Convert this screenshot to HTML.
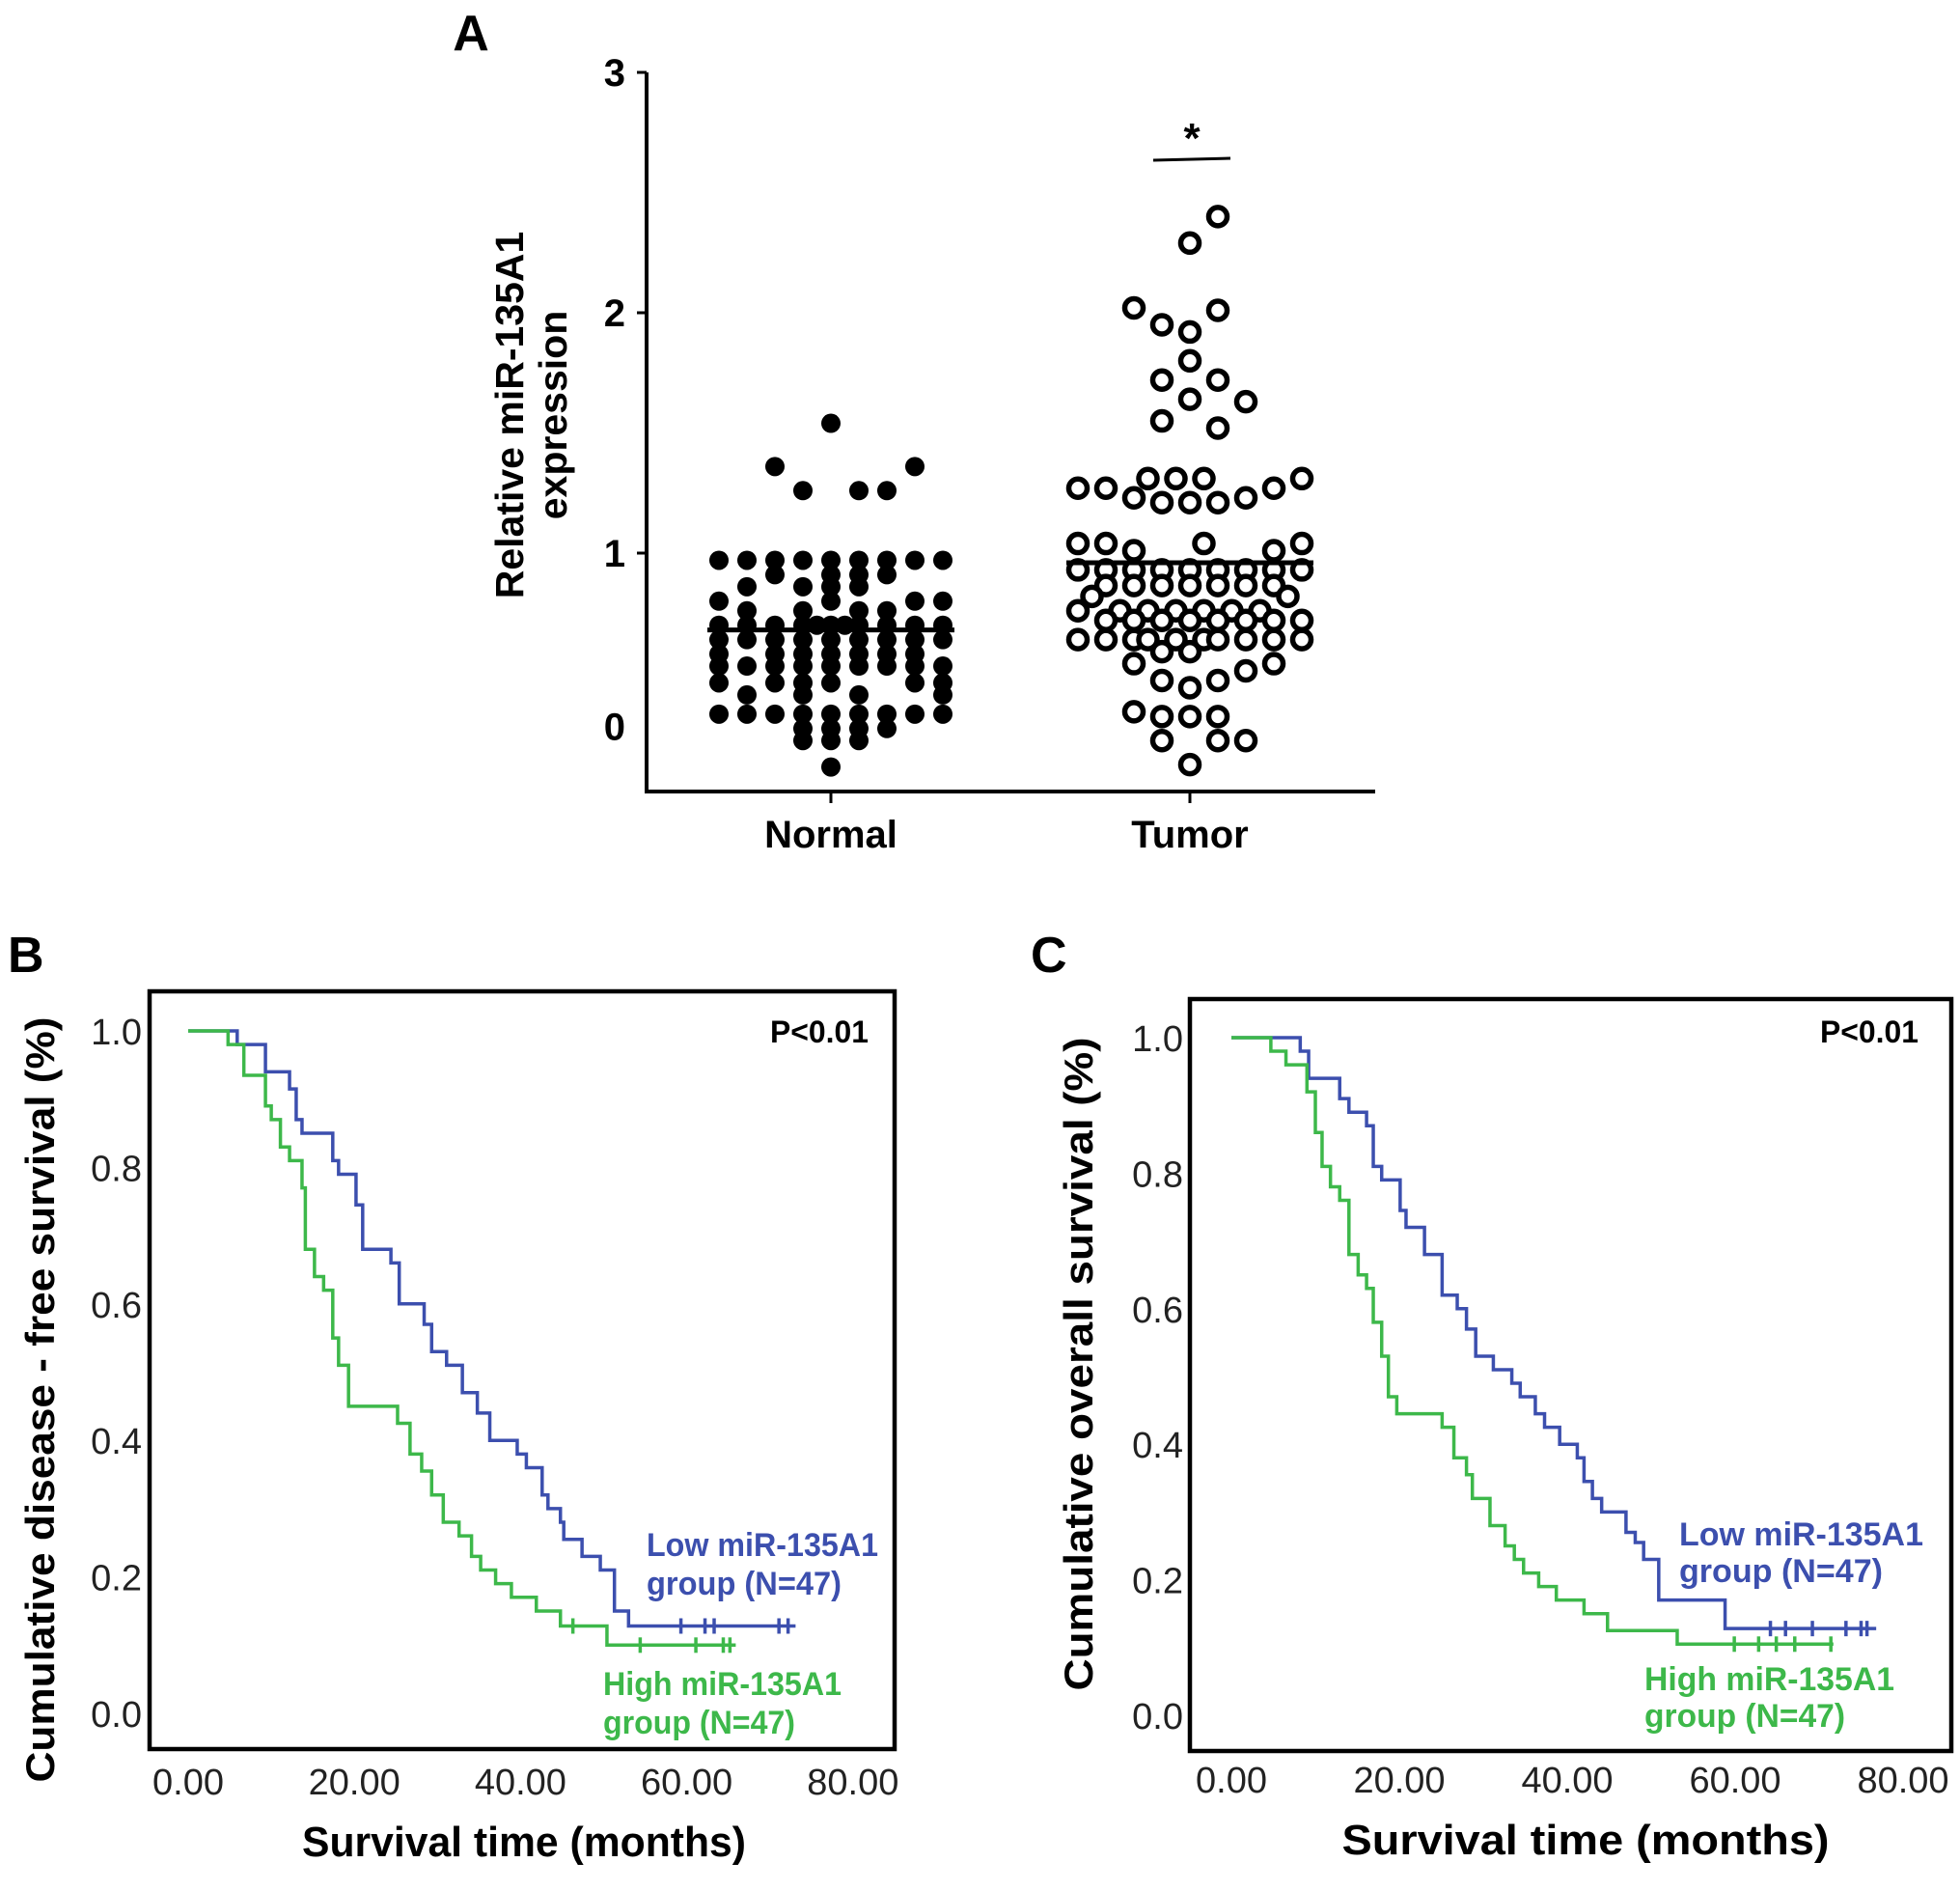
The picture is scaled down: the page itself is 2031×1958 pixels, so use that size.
<!DOCTYPE html>
<html><head><meta charset="utf-8"><style>
html,body{margin:0;padding:0;background:#fff;}
svg{display:block;font-family:"Liberation Sans",Arial,sans-serif;}
</style></head><body>
<svg id="fig" width="2031" height="1958" viewBox="0 0 2031 1958" xmlns="http://www.w3.org/2000/svg">
<g id="panelA"></g>
<g id="panelB"></g>
<g id="panelC"></g>
</svg>
<script>
// ---------- Panel A data ----------
const aCategories = ["Normal", "Tumor"];
const aTickVals = [3, 2, 1, 0.28];
const aTickLabels = ["3", "2", "1", "0"];
const normalVals = [1.54,1.36,1.36,1.26,1.26,1.26,
0.97,0.97,0.97,0.97,0.97,0.97,0.97,0.97,0.97,
0.91,0.91,0.91,0.91, 0.86,0.86,0.86,0.86, 0.80,0.80,0.80,0.80, 0.76,0.76,0.76,0.76,
0.70,0.70,0.70,0.70,0.70,0.70,0.70,0.70,0.70,0.70,0.70,
0.64,0.64,0.64,0.64,0.64,0.64,0.64,0.64,0.64,
0.58,0.58,0.58,0.58,0.58,0.58,0.58,
0.53,0.53,0.53,0.53,0.53,0.53,0.53,0.53,0.53,
0.46,0.46,0.46,0.46,0.46,0.46, 0.41,0.41,0.41,0.41,
0.33,0.33,0.33,0.33,0.33,0.33,0.33,0.33,0.33,
0.27,0.27,0.27,0.27, 0.22,0.22,0.22, 0.11];
const normalSlots = [0,-2,3,-1,1,2,
-4,-3,-2,-1,0,1,2,3,4,
-2,0,1,2, -3,-1,0,1, -4,0,3,4, -3,-1,1,2,
-4,-3,-2,-1,-0.5,0,0.5,1,2,3,4,
-4,-3,-2,-1,0,1,2,3,4,
-4,-2,-1,0,1,2,3,
-4,-3,-2,-1,0,1,2,3,4,
-4,-2,-1,0,3,4, -3,-1,1,4,
-4,-3,-2,-1,0,1,2,3,4,
-1,0,1,2, -1,0,1, 0];
const tumorVals = [2.40,2.29,2.02,2.01,1.95,1.92,1.80,1.72,1.72,1.64,1.63,1.55,1.52,
1.31,1.31,1.31,1.31, 1.27,1.27,1.27, 1.23,1.23, 1.21,1.21,1.21,
1.04,1.04,1.04,1.04, 1.01,1.01,
0.93,0.93,0.93,0.93,0.93,0.93,0.93,0.93,0.93,
0.865,0.865,0.865,0.865,0.865,0.865,0.865, 0.82,0.82,
0.76,0.76,0.76,0.76,0.76,0.76,0.76,
0.72,0.72,0.72,0.72,0.72,0.72,0.72,0.72,
0.64,0.64,0.64,0.64,0.64,0.64,0.64,0.64,0.64,0.64,
0.59,0.59, 0.54,0.54, 0.51, 0.47,0.47, 0.44, 0.34, 0.32,0.32,0.32, 0.22,0.22,0.22, 0.12];
const tumorSlots = [1,0,-2,1,-1,0,0,-1,1,0,2,-1,1,
-1.5,-0.5,0.5,4, -4,-3,3, -2,2, -1,0,1,
-4,-3,0.5,4, -2,3,
-4,-3,-2,-1,0,1,2,3,4,
-3,-2,-1,0,1,2,3, -3.5,3.5,
-4,-2.5,-1.5,-0.5,0.5,1.5,2.5,
-3,-2,-1,0,1,2,3,4,
-4,-3,-2,-1.5,-0.5,0.5,1,2,3,4,
-1,0, -2,3, 2, -1,1, 0, -2, -1,0,1, -1,1,2, 0];
const aMeans = [0.68, 0.96];

// ---------- Panel B data ----------
const bLowTimes = [5.9,9.3,12.2,13,13.7,17.4,18.1,20.2,21,24.4,25.4,28.4,29.3,31.1,33,34.8,36.3,39.6,40.7,42.6,43.3,44.8,45.2,47.4,49.6,51.3,53];
const bLowSurv  = [0.98,0.94,0.915,0.87,0.85,0.81,0.79,0.745,0.68,0.66,0.60,0.57,0.53,0.51,0.47,0.44,0.40,0.38,0.36,0.32,0.30,0.28,0.255,0.23,0.21,0.15,0.128];
const bLowEnd = 73.1;
const bLowCensor = [59.3,62.2,63.3,71.1,72.2];
const bHighTimes = [4.8,6.7,9.3,10,11.1,12.2,13.7,14.1,15.2,16.3,17.4,18.1,19.3,25.2,26.7,28.1,29.3,30.7,32.6,34.1,35.2,37,38.9,41.9,44.8,50.4];
const bHighSurv  = [0.98,0.935,0.89,0.87,0.83,0.81,0.77,0.68,0.64,0.62,0.55,0.51,0.45,0.425,0.38,0.355,0.32,0.28,0.26,0.23,0.21,0.19,0.17,0.15,0.128,0.10];
const bHighEnd = 65.9;
const bHighCensor = [46.3,54.4,61.1,64.4,65.2];

// ---------- Panel C data ----------
const cLowTimes = [8.2,9.2,12.9,14,16.1,16.9,17.9,20.1,20.8,23,25.1,26.9,28,29.1,31.2,33.4,34.4,36.2,37.3,39.1,41.2,42,43,44.1,47,48.1,49.1,50.9,58.8];
const cLowSurv  = [0.98,0.94,0.91,0.89,0.87,0.81,0.79,0.745,0.72,0.68,0.62,0.60,0.57,0.53,0.51,0.49,0.47,0.445,0.425,0.40,0.38,0.345,0.32,0.30,0.27,0.255,0.23,0.17,0.128];
const cLowEnd = 76.8;
const cLowCensor = [64.2,66,69.2,73.2,75,75.7];
const cHighTimes = [4.7,6.5,9,10,10.8,11.8,12.9,14,15.1,16.1,16.9,17.9,18.7,19.7,25.1,26.5,28,28.7,30.8,32.6,33.7,34.8,36.6,38.7,42,44.8,53.1];
const cHighSurv  = [0.98,0.96,0.92,0.86,0.81,0.78,0.76,0.68,0.65,0.63,0.58,0.53,0.47,0.445,0.425,0.38,0.355,0.32,0.28,0.25,0.23,0.21,0.19,0.17,0.15,0.125,0.105];
const cHighEnd = 71.7;
const cHighCensor = [59.9,62.8,64.9,67.1,71.4];

const xTickVals = [0,20,40,60,80];
const xTickLabels = ["0.00","20.00","40.00","60.00","80.00"];
const yTickVals = [0,0.2,0.4,0.6,0.8,1.0];
const yTickLabels = ["0.0","0.2","0.4","0.6","0.8","1.0"];

const NS = "http://www.w3.org/2000/svg";
const BLUE = "#3c4fae", GREEN = "#3db84a";
function mk(parent, tag, attrs, text) {
  const e = document.createElementNS(NS, tag);
  for (const k in attrs) e.setAttribute(k, attrs[k]);
  if (text !== undefined) e.textContent = text;
  parent.appendChild(e);
  return e;
}

// ---------- Panel A ----------
(function(){
  const g = document.getElementById('panelA');
  const yA = v => 573 - (v - 1) * 249;
  const catX = [861, 1233];
  const SLOT = 29;
  let t = mk(g,'text',{x:488,y:52,'font-size':52,'font-weight':'bold','text-anchor':'middle'},'A');
   
  let ax = mk(g,'path',{d:`M670,${yA(3)} V820 H1425`,stroke:'#000','stroke-width':4,fill:'none'});
   
  aTickVals.forEach((v,i)=>{
    if (i < 3) mk(g,'line',{x1:660,x2:670,y1:yA(v),y2:yA(v),stroke:'#000','stroke-width':3});
    const tl = mk(g,'text',{x:648,y:yA(v)+14,'font-size':40,'font-weight':'bold','text-anchor':'end'},aTickLabels[i]);
     
  });
  aCategories.forEach((c,i)=>{
    mk(g,'line',{x1:catX[i],x2:catX[i],y1:820,y2:832,stroke:'#000','stroke-width':3});
    const cl = mk(g,'text',{x:catX[i],y:878,'font-size':40,'font-weight':'bold','text-anchor':'middle'},c);
     
  });
  const yl = mk(g,'text',{transform:'translate(542,430) rotate(-90)','font-size':41,'font-weight':'bold','text-anchor':'middle'},'Relative miR-135A1');
   
  const yl2 = mk(g,'text',{transform:'translate(587,430) rotate(-90)','font-size':41,'font-weight':'bold','text-anchor':'middle'},'expression');
   
  normalVals.forEach((v,i)=>{
    const d = mk(g,'circle',{cx:catX[0]+normalSlots[i]*SLOT,cy:yA(v),r:10,fill:'#000'});
     
  });
  tumorVals.forEach((v,i)=>{
    const d = mk(g,'circle',{cx:catX[1]+tumorSlots[i]*SLOT,cy:yA(v),r:9.5,fill:'#fff',stroke:'#000','stroke-width':5.5});
     
  });
  aMeans.forEach((m,i)=>{
    const ml = mk(g,'line',{x1:catX[i]-128,x2:catX[i]+128,y1:yA(m),y2:yA(m),stroke:'#000','stroke-width':5});
     
  });
  const sl = mk(g,'line',{x1:1195,x2:1275,y1:166,y2:164,stroke:'#000','stroke-width':3});
   
  const st = mk(g,'text',{x:1235,y:158,'font-size':44,'font-weight':'bold','text-anchor':'middle'},'*');
   
})();

// ---------- KM panels ----------
function survAt(sr, t) {
  let s = 1;
  sr.times.forEach((tt,i)=>{ if (tt <= t) s = sr.surv[i]; });
  return s;
}
function kmPanel(g, cfg) {
  const X = t => cfg.x0 + t * cfg.xs;
  const Y = s => cfg.y0 - s * cfg.ys;
  let t = mk(g,'text',{x:cfg.lblX,y:1007,'font-size':52,'font-weight':'bold'},cfg.letter);
   
  const box = mk(g,'rect',{x:cfg.box[0],y:cfg.box[1],width:cfg.box[2]-cfg.box[0],height:cfg.box[3]-cfg.box[1],fill:'none',stroke:'#000','stroke-width':4.5});
   
  yTickVals.forEach((v,i)=>{
    const tl = mk(g,'text',{x:cfg.yLabX,y:Y(v)+14,'font-size':38,'text-anchor':'end',fill:'#222'},yTickLabels[i]);
     
  });
  xTickVals.forEach((v,i)=>{
    const tl = mk(g,'text',{x:X(v),y:cfg.xLabY+14,'font-size':38,'text-anchor':'middle',fill:'#222'},xTickLabels[i]);
     
  });
  const yt = mk(g,'text',{transform:`translate(${cfg.ytX},${cfg.ytY}) rotate(-90)`,'font-size':42,'font-weight':'bold','text-anchor':'middle',textLength:cfg.ytLen,lengthAdjust:'spacingAndGlyphs'},cfg.yTitle);
   
  const xt = mk(g,'text',{x:cfg.xtX,y:cfg.xtY+15,'font-size':44,'font-weight':'bold','text-anchor':'middle',textLength:cfg.xtLen,lengthAdjust:'spacingAndGlyphs'},'Survival time (months)');
   
  const p = mk(g,'text',{x:cfg.pX,y:1080,'font-size':32,'font-weight':'bold',textLength:102,lengthAdjust:'spacingAndGlyphs'},'P<0.01');
   
  cfg.series.forEach(sr=>{
    let d = `M${X(0)},${Y(1)}`;
    sr.times.forEach((tt,i)=>{ d += ` H${X(tt)} V${Y(sr.surv[i])}`; });
    d += ` H${X(sr.end)}`;
    const path = mk(g,'path',{d:d,fill:'none',stroke:sr.color,'stroke-width':3.5});
     
    sr.censor.forEach(c=>{
      const yy = Y(survAt(sr, c));
      const ct = mk(g,'line',{x1:X(c),x2:X(c),y1:yy-8,y2:yy+8,stroke:sr.color,'stroke-width':3.5});
       
    });
    sr.labels.forEach((l,i)=>{
      const lt = mk(g,'text',{x:sr.lx,y:sr.ly[i]+12,'font-size':34,'font-weight':'bold',fill:sr.color,textLength:sr.lw[i],lengthAdjust:'spacingAndGlyphs'},l);
       
    });
  });
}
kmPanel(document.getElementById('panelB'),{
  letter:'B', lblX:8, x0:195, xs:8.61, y0:1775, ys:707, box:[155,1027,927,1812],
  yLabX:147, xLabY:1845, ytX:56, ytY:1450, ytLen:793, yTitle:'Cumulative disease - free survival (%)',
  xtX:543, xtY:1908, xtLen:460, pX:798,
  series:[
    {name:'low-group',color:BLUE,times:bLowTimes,surv:bLowSurv,end:bLowEnd,censor:bLowCensor,labels:['Low miR-135A1','group (N=47)'],lx:670,ly:[1600,1640],lw:[240,202]},
    {name:'high-group',color:GREEN,times:bHighTimes,surv:bHighSurv,end:bHighEnd,censor:bHighCensor,labels:['High miR-135A1','group (N=47)'],lx:625,ly:[1744,1784],lw:[247,199]}
  ]
});
kmPanel(document.getElementById('panelC'),{
  letter:'C', lblX:1068, x0:1276, xs:8.7, y0:1777, ys:702, box:[1233,1035,2022,1814],
  yLabX:1226, xLabY:1843, ytX:1132, ytY:1413, ytLen:677, yTitle:'Cumulative overall survival (%)',
  xtX:1643, xtY:1906, xtLen:505, pX:1886,
  series:[
    {name:'low-group',color:BLUE,times:cLowTimes,surv:cLowSurv,end:cLowEnd,censor:cLowCensor,labels:['Low miR-135A1','group (N=47)'],lx:1740,ly:[1589,1627],lw:[253,211]},
    {name:'high-group',color:GREEN,times:cHighTimes,surv:cHighSurv,end:cHighEnd,censor:cHighCensor,labels:['High miR-135A1','group (N=47)'],lx:1704,ly:[1739,1777],lw:[259,208]}
  ]
});
</script>
</body></html>
